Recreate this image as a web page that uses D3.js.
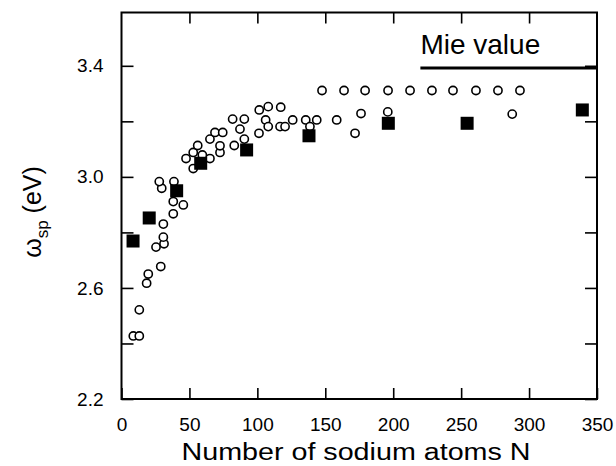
<!DOCTYPE html>
<html>
<head>
	<meta charset="UTF-8">
	<title>Surface plasmon energy vs cluster size</title>
	<script src="https://d3js.org/d3.v7.min.js"></script>
	<style>
		body { margin: 0; background: #fff; }
		text { font-family: "Liberation Sans", Arial, sans-serif; fill: #000; }
	</style>
</head>
<body>
	<script>
		// open circles: number of atoms N and plasmon energy (eV)
		var circleN = [8.7, 13.1, 13.1, 18.5, 19.7, 28.9, 25.4, 31.3, 30.8, 30.8,
			38.1, 45.5, 38.1, 29.6, 27.8, 38.6, 52.8, 47.5, 65.1, 52.8,
			59.5, 56.1, 72.5, 72.5, 65.1, 68.8, 74.5, 83.0, 90.4, 87.2,
			81.8, 90.4, 101.2, 101.4, 108.0, 117.2, 106.1, 108.0, 116.7, 120.4,
			126.0, 135.6, 138.7, 143.7, 158.4, 171.9, 176.3, 196.0, 287.6,
			147.6, 163.8, 179.3, 196.2, 212.4, 228.5, 244.0, 260.9, 277.1, 293.3];
		var circleE = [2.427, 2.427, 2.521, 2.617, 2.650, 2.677, 2.747, 2.759, 2.783, 2.830,
			2.867, 2.899, 2.911, 2.959, 2.983, 2.983, 3.030, 3.066, 3.066, 3.088,
			3.079, 3.113, 3.088, 3.112, 3.136, 3.160, 3.160, 3.113, 3.136, 3.172,
			3.208, 3.208, 3.157, 3.241, 3.253, 3.251, 3.205, 3.181, 3.181, 3.181,
			3.205, 3.205, 3.181, 3.205, 3.205, 3.157, 3.228, 3.234, 3.226,
			3.311, 3.311, 3.311, 3.311, 3.311, 3.311, 3.311, 3.311, 3.311, 3.311];

		// filled squares
		var squareN = [8.5, 20.4, 40.6, 58.3, 92.1, 138, 196.4, 254.4, 339.2];
		var squareE = [2.769, 2.852, 2.95, 3.049, 3.097, 3.148, 3.193, 3.193, 3.241];

		// Mie value line
		var mieE = 3.392;
		var mieFrom = 220, mieTo = 350;

		// ticks
		var xTicks = [0, 50, 100, 150, 200, 250, 300, 350];
		var xInnerTicks = [50, 100, 150, 200, 250, 300];
		var yTicks = [2.2, 2.4, 2.6, 2.8, 3.0, 3.2, 3.4];
		var yLabels = [2.2, 2.6, 3.0, 3.4];

		var W = 616, H = 466;
		var pLeft = 121.5, pRight = 597, pTop = 12.5, pBottom = 399;

		var svg = d3.select("body").append("svg")
			.attr("width", W)
			.attr("height", H);

		var x = d3.scaleLinear().domain([0, 350]).range([pLeft, pRight]);
		var y = d3.scaleLinear().domain([2.2, 3.592]).range([pBottom, pTop]);

		// bottom axis with labels
		var xAxis = svg.append("g")
			.attr("transform", "translate(0," + pBottom + ")")
			.call(d3.axisBottom(x).tickValues(xTicks).tickSizeInner(-11).tickSizeOuter(0).tickPadding(19));
		xAxis.select(".domain").remove();
		xAxis.selectAll("line").attr("stroke-width", 1.6);
		xAxis.selectAll("text").style("font-size", "19px").attr("font-family", null);

		// top axis, ticks only
		var xTop = svg.append("g")
			.attr("transform", "translate(0," + pTop + ")")
			.call(d3.axisTop(x).tickValues(xInnerTicks).tickSizeInner(-11).tickSizeOuter(0).tickFormat(""));
		xTop.select(".domain").remove();
		xTop.selectAll("line").attr("stroke-width", 1.6);

		// left axis
		var yAxis = svg.append("g")
			.attr("transform", "translate(" + pLeft + ",0)")
			.call(d3.axisLeft(y).tickValues(yTicks).tickSizeInner(-12).tickSizeOuter(0).tickPadding(18)
				.tickFormat(function(d) {
					return yLabels.some(function(v) { return Math.abs(v - d) < 1e-6; }) ? d3.format(".1f")(d) : "";
				}));
		yAxis.select(".domain").remove();
		yAxis.selectAll("line").attr("stroke-width", 1.6);
		yAxis.selectAll("text").style("font-size", "19px").attr("font-family", null);

		// right axis, ticks only
		var yRight = svg.append("g")
			.attr("transform", "translate(" + pRight + ",0)")
			.call(d3.axisRight(y).tickValues(yTicks).tickSizeInner(-12).tickSizeOuter(0).tickFormat(""));
		yRight.select(".domain").remove();
		yRight.selectAll("line").attr("stroke-width", 1.6);

		// frame
		svg.append("rect")
			.attr("x", pLeft)
			.attr("y", pTop)
			.attr("width", pRight - pLeft)
			.attr("height", pBottom - pTop)
			.attr("fill", "none")
			.attr("stroke", "#000")
			.attr("stroke-width", 2);

		// Mie value
		svg.append("line")
			.attr("x1", x(mieFrom))
			.attr("x2", x(mieTo))
			.attr("y1", y(mieE))
			.attr("y2", y(mieE))
			.attr("stroke", "#000")
			.attr("stroke-width", 3);

		svg.append("text")
			.attr("x", x(mieFrom))
			.attr("y", 54)
			.style("font-size", "28px")
			.text("Mie value");

		// open circles
		svg.append("g").selectAll("circle")
			.data(d3.range(circleN.length))
			.enter().append("circle")
			.attr("cx", function(i) { return x(circleN[i]); })
			.attr("cy", function(i) { return y(circleE[i]); })
			.attr("r", 4.1)
			.attr("fill", "#fff")
			.attr("stroke", "#000")
			.attr("stroke-width", 1.6);

		// filled squares on top
		var s = 13;
		svg.append("g").selectAll("rect")
			.data(d3.range(squareN.length))
			.enter().append("rect")
			.attr("x", function(i) { return x(squareN[i]) - s / 2; })
			.attr("y", function(i) { return y(squareE[i]) - s / 2; })
			.attr("width", s)
			.attr("height", s)
			.attr("fill", "#000");

		// x axis title
		svg.append("text")
			.attr("x", 356)
			.attr("y", 460)
			.attr("text-anchor", "middle")
			.attr("textLength", 349)
			.attr("lengthAdjust", "spacingAndGlyphs")
			.style("font-size", "23px")
			.text("Number of sodium atoms N");

		// y axis title
		var yt = svg.append("text")
			.attr("transform", "translate(41,212) rotate(-90)")
			.attr("text-anchor", "middle")
			.style("font-size", "25px");
		yt.append("tspan").text("\u03c9");
		yt.append("tspan").attr("dy", 7).style("font-size", "17px").text("sp");
		yt.append("tspan").attr("dy", -7).text(" (eV)");
	</script>
</body>
</html>
